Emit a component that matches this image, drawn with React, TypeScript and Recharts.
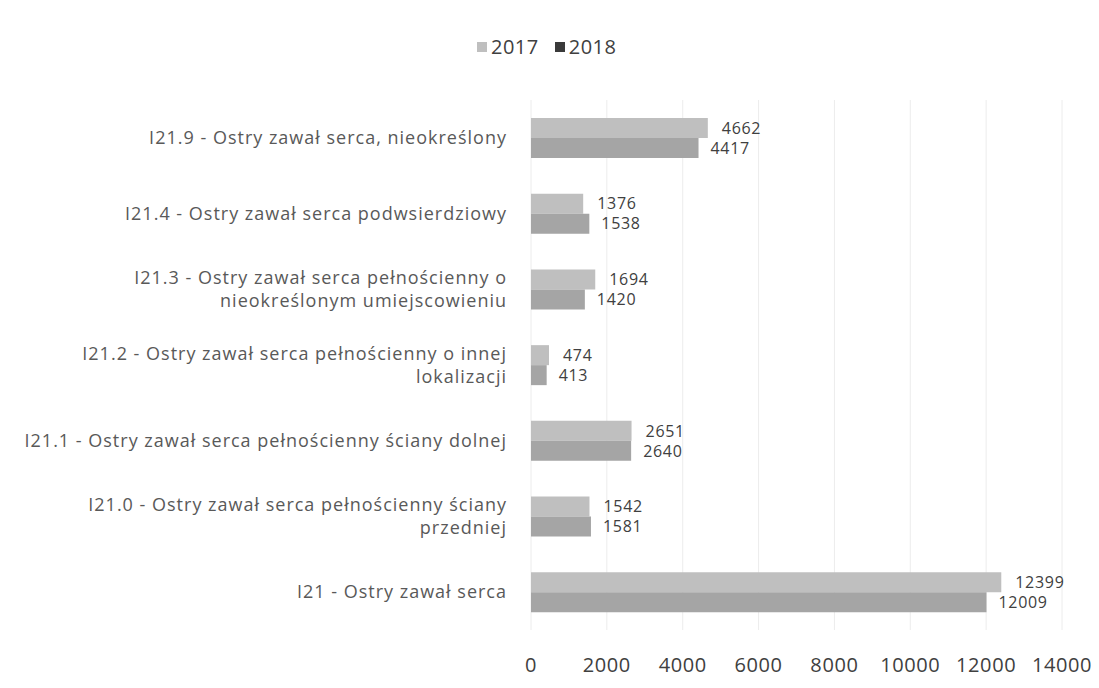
import { Bar, BarChart, CartesianGrid, LabelList, XAxis, YAxis } from "recharts";

const categories = [
  "I21.9 - Ostry zawał serca, nieokreślony",
  "I21.4 - Ostry zawał serca podwsierdziowy",
  "I21.3 - Ostry zawał serca pełnościenny o\nnieokreślonym umiejscowieniu",
  "I21.2 - Ostry zawał serca pełnościenny o innej\nlokalizacji",
  "I21.1 - Ostry zawał serca pełnościenny ściany dolnej",
  "I21.0 - Ostry zawał serca pełnościenny ściany\nprzedniej",
  "I21 - Ostry zawał serca",
];
const values2017 = [4662, 1376, 1694, 474, 2651, 1542, 12399];
const values2018 = [4417, 1538, 1420, 413, 2640, 1581, 12009];
const xTicks = [0, 2000, 4000, 6000, 8000, 10000, 12000, 14000];

const data = categories.map((name, i) => ({ name, y2017: values2017[i], y2018: values2018[i] }));

const FONT = "'Open Sans', sans-serif";
const C2017 = "#bfbfbf";
const C2018 = "#a5a5a5";

function CategoryTick(props: any) {
  const { x, y, payload } = props;
  const lines = String(payload.value).split("\n");
  const lh = 23;
  const y0 = y - ((lines.length - 1) * lh) / 2;
  return (
    <text x={x} y={y0} textAnchor="end" fill="#595959" fontSize={18} letterSpacing={1} fontFamily={FONT}>
      {lines.map((l, i) => (
        <tspan key={i} x={x} dy={i === 0 ? 6 : lh}>
          {l}
        </tspan>
      ))}
    </text>
  );
}

export default function App() {
  return (
    <div style={{ position: "relative", width: 1083, height: 672, background: "#fff" }}>
      <div
        style={{
          position: "absolute",
          top: 26,
          left: 469,
          display: "flex",
          gap: 16,
          fontFamily: FONT,
          fontSize: 20,
          letterSpacing: 0.5,
          color: "#404040",
          lineHeight: "26px",
        }}
      >
        <span style={{ display: "flex", alignItems: "center", gap: 4 }}>
          <span style={{ width: 10, height: 10, background: C2017, display: "inline-block" }} />
          2017
        </span>
        <span style={{ display: "flex", alignItems: "center", gap: 4 }}>
          <span style={{ width: 10, height: 10, background: "#3a3a3a", display: "inline-block" }} />
          2018
        </span>
      </div>
      <BarChart
        width={1083}
        height={672}
        data={data}
        layout="vertical"
        margin={{ top: 92, right: 29, bottom: 20, left: 0 }}
        barGap={0}
        barCategoryGap="23%"
      >
        <CartesianGrid horizontal={false} stroke="#ececec" />
        <XAxis
          type="number"
          domain={[0, 14000]}
          ticks={xTicks}
          axisLine={false}
          tickLine={false}
          tickMargin={22}
          height={30}
          tick={{ fill: "#404040", fontSize: 20, letterSpacing: 0.6, fontFamily: FONT }}
        />
        <YAxis
          type="category"
          dataKey="name"
          width={523}
          axisLine={false}
          tickLine={false}
          tickMargin={18}
          interval={0}
          tick={<CategoryTick />}
        />
        <Bar dataKey="y2017" fill={C2017} barSize={20} isAnimationActive={false}>
          <LabelList dataKey="y2017" position="right" offset={14} fill="#404040" fontSize={16} letterSpacing={0.7} fontFamily={FONT} />
        </Bar>
        <Bar dataKey="y2018" fill={C2018} barSize={20} isAnimationActive={false}>
          <LabelList dataKey="y2018" position="right" offset={12} fill="#404040" fontSize={16} letterSpacing={0.7} fontFamily={FONT} />
        </Bar>
      </BarChart>
    </div>
  );
}
